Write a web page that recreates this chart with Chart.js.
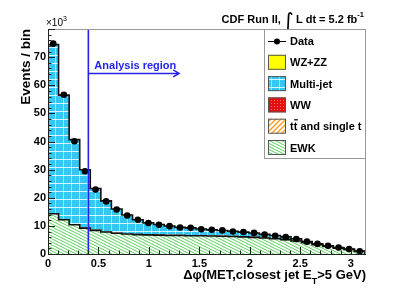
<!DOCTYPE html>
<html>
<head>
<meta charset="utf-8">
<script src="https://cdn.jsdelivr.net/npm/chart.js@4.4.1/dist/chart.umd.min.js"></script>
<style>
  html, body { margin: 0; padding: 0; background: #fff; }
</style>
</head>
<body>
<canvas id="Chart" width="407" height="289"></canvas>
<script>
// binning: 30 bins from 0 to pi
const nBins = 30;
const xMax = Math.PI;
const xTicks = [0, 0.5, 1, 1.5, 2, 2.5, 3];
const yTicks = [0, 10, 20, 30, 40, 50, 60, 70];
const cutValue = 0.4;

// events per bin, in units of 10^3
const dataValues = [74.8, 56.6, 40.1, 29.4, 22.9, 18.7, 15.8, 13.7, 12.2, 11.0,
  10.4, 9.9, 9.4, 9.3, 8.8, 8.6, 8.4, 8.0, 7.8, 7.5,
  6.9, 6.5, 6.0, 5.3, 4.4, 3.6, 2.9, 2.3, 1.8, 1.0];
const ewk = [14.3, 12.2, 10.4, 9.2, 8.4, 7.8, 7.4, 7.1, 6.9, 6.8,
  6.7, 6.6, 6.6, 6.5, 6.5, 6.4, 6.3, 6.2, 6.1, 5.9,
  5.7, 5.4, 5.1, 4.6, 4.0, 3.3, 2.7, 2.1, 1.6, 0.9];
const ttbar = [0.1, 0.1, 0.1, 0.1, 0.1, 0.1, 0.1, 0.1, 0.1, 0.1,
  0.1, 0.1, 0.1, 0.1, 0.1, 0.1, 0.1, 0.1, 0.1, 0.1,
  0.1, 0.1, 0.1, 0.1, 0.1, 0.05, 0.05, 0.05, 0.05, 0.05];
const ww = [0.05, 0.05, 0.05, 0.05, 0.05, 0.05, 0.05, 0.05, 0.05, 0.05,
  0.05, 0.05, 0.05, 0.05, 0.05, 0.05, 0.05, 0.05, 0.05, 0.05,
  0.05, 0.05, 0.05, 0.05, 0.05, 0.03, 0.03, 0.03, 0.03, 0.02];
const multijet = [60.0, 44.1, 30.1, 20.6, 14.7, 10.9, 8.4, 6.6, 5.1, 4.1,
  3.6, 3.2, 2.7, 2.6, 2.2, 2.0, 1.9, 1.7, 1.5, 1.4,
  1.1, 1.0, 0.8, 0.6, 0.3, 0.2, 0.1, 0.1, 0.1, 0.05];
const wzzz = [0.03, 0.03, 0.03, 0.03, 0.03, 0.03, 0.03, 0.03, 0.03, 0.03,
  0.03, 0.03, 0.03, 0.03, 0.03, 0.03, 0.03, 0.03, 0.03, 0.03,
  0.03, 0.03, 0.03, 0.03, 0.02, 0.02, 0.02, 0.02, 0.02, 0.01];

const binWidth = xMax / nBins;
const binCenters = dataValues.map((_, i) => (i + 0.5) * binWidth);
const binEdges = dataValues.map((_, i) => i * binWidth);

const FONT = '"Liberation Sans", Arial, Helvetica, sans-serif';
Chart.defaults.font.family = FONT;

function makePattern(w, h, draw) {
  const c = document.createElement('canvas');
  c.width = w; c.height = h;
  const g = c.getContext('2d');
  draw(g, w, h);
  return g.createPattern(c, 'repeat');
}

const multiFill = makePattern(8, 8, (g, w, h) => {
  g.fillStyle = '#33c8f4';
  g.fillRect(0, 0, w, h);
  g.fillStyle = 'rgba(255,255,255,0.8)';
  g.fillRect(0, h - 1, w, 1);
  g.fillStyle = 'rgba(255,255,255,0.5)';
  g.fillRect(w - 1, 0, 1, h);
});
const ewkFill = makePattern(6, 3, (g, w, h) => {
  g.fillStyle = '#fff';
  g.fillRect(0, 0, w, h);
  g.strokeStyle = '#5fcf5f';
  g.lineWidth = 1;
  g.beginPath();
  g.moveTo(-w, -h); g.lineTo(2 * w, 2 * h);
  g.moveTo(-w, 0); g.lineTo(w, 2 * h);
  g.moveTo(0, -h); g.lineTo(2 * w, h);
  g.stroke();
});
const ttFill = makePattern(5, 5, (g, w, h) => {
  g.fillStyle = '#fff';
  g.fillRect(0, 0, w, h);
  g.strokeStyle = '#ff9a1a';
  g.lineWidth = 1.3;
  g.beginPath();
  g.moveTo(-w, 2 * h); g.lineTo(2 * w, -h);
  g.moveTo(-w, h); g.lineTo(w, -h);
  g.moveTo(0, 2 * h); g.lineTo(2 * w, 0);
  g.stroke();
});
const wwFill = makePattern(3, 3, (g, w, h) => {
  g.fillStyle = '#e41010';
  g.fillRect(0, 0, w, h);
  g.fillStyle = '#ff7070';
  g.fillRect(1, 1, 1, 1);
});

const toXY = (arr, xs) => arr.map((v, i) => ({ x: xs[i], y: v }));

// stacked total outline and EWK outline (step lines along bin edges)
const stackTotal = ewk.map((v, i) => v + ttbar[i] + ww[i] + multijet[i] + wzzz[i]);
const stepLine = (arr) => toXY(arr, binEdges).concat([{ x: xMax, y: arr[arr.length - 1] }, { x: xMax, y: 0 }]);

const barOpts = { barPercentage: 1, categoryPercentage: 1, grouped: false, borderWidth: 0 };

const legendItems = [
  { label: 'Data', kind: 'data' },
  { label: 'WZ+ZZ', fill: '#ffff00' },
  { label: 'Multi-jet', fill: multiFill },
  { label: 'WW', fill: wwFill },
  { label: 'tt and single t', fill: ttFill, tbar: true },
  { label: 'EWK', fill: ewkFill }
];

const rootStyle = {
  id: 'rootStyle',
  afterDatasetsDraw(chart) {
    const { ctx, chartArea: a, scales: { x, y } } = chart;
    ctx.save();
    // analysis cut line and arrow
    const xc = x.getPixelForValue(cutValue);
    ctx.strokeStyle = '#2424e8';
    ctx.fillStyle = '#2424e8';
    ctx.lineWidth = 1.6;
    ctx.beginPath();
    ctx.moveTo(xc, a.top); ctx.lineTo(xc, a.bottom);
    ctx.stroke();
    const ya = y.getPixelForValue(64.2);
    const xe = x.getPixelForValue(1.3);
    ctx.lineWidth = 1.4;
    ctx.beginPath();
    ctx.moveTo(xc, ya); ctx.lineTo(xe, ya);
    ctx.moveTo(xe - 6, ya - 3.5); ctx.lineTo(xe, ya); ctx.lineTo(xe - 6, ya + 3.5);
    ctx.stroke();
    ctx.font = 'bold 11px ' + FONT;
    ctx.textBaseline = 'alphabetic';
    ctx.fillText('Analysis region', xc + 6, ya - 4);
    ctx.restore();
  },
  afterDraw(chart) {
    const { ctx, chartArea: a, scales: { x, y } } = chart;
    ctx.save();
    // frame
    ctx.lineWidth = 1;
    ctx.strokeStyle = '#999';
    ctx.beginPath();
    ctx.moveTo(a.left, a.top + 0.5); ctx.lineTo(a.right + 0.5, a.top + 0.5); ctx.lineTo(a.right + 0.5, a.bottom);
    ctx.stroke();
    ctx.strokeStyle = '#222';
    ctx.beginPath();
    ctx.moveTo(a.left + 0.5, a.top); ctx.lineTo(a.left + 0.5, a.bottom + 0.5); ctx.lineTo(a.right + 1, a.bottom + 0.5);
    ctx.stroke();
    // inward ticks
    ctx.beginPath();
    for (let v = 0; v <= 80.001; v += 2) {
      const py = Math.round(y.getPixelForValue(v)) + 0.5;
      const len = (Math.round(v) % 10 === 0) ? 7 : 3.5;
      ctx.moveTo(a.left, py); ctx.lineTo(a.left + len, py);
    }
    for (let k = 0; k <= 31; k++) {
      const v = k / 10;
      const px = Math.round(x.getPixelForValue(v)) + 0.5;
      const len = (k % 5 === 0) ? 7 : 3.5;
      ctx.moveTo(px, a.bottom); ctx.lineTo(px, a.bottom - len);
    }
    ctx.stroke();

    ctx.fillStyle = '#000';
    // x10^3
    ctx.font = '10px ' + FONT;
    ctx.textAlign = 'left';
    ctx.fillText('\u00d710', a.left - 2, a.top - 3);
    const w10 = ctx.measureText('\u00d710').width;
    ctx.font = '7px ' + FONT;
    ctx.fillText('3', a.left - 2 + w10, a.top - 8);

    // y title
    ctx.font = 'bold 13.5px ' + FONT;
    ctx.save();
    ctx.translate(30, a.top);
    ctx.rotate(-Math.PI / 2);
    ctx.textAlign = 'right';
    ctx.fillText('Events / bin', 0, 0);
    ctx.restore();

    // x title with subscript
    const p1 = '\u0394\u03c6(MET,closest jet E', p2 = 'T', p3 = '>5 GeV)';
    const fx = 'bold 13px ' + FONT, fxs = 'bold 9px ' + FONT;
    ctx.font = fx;
    const w1 = ctx.measureText(p1).width, w3 = ctx.measureText(p3).width;
    ctx.font = fxs;
    const w2 = ctx.measureText(p2).width;
    let tx = a.right + 1 - (w1 + w2 + w3);
    const tb = 279;
    ctx.textAlign = 'left';
    ctx.font = fx;
    ctx.fillText(p1, tx, tb);
    ctx.font = fxs;
    ctx.fillText(p2, tx + w1, tb + 5);
    ctx.font = fx;
    ctx.fillText(p3, tx + w1 + w2, tb);

    // top label
    const q1 = 'CDF Run II, ', q2 = '\u222b', q3 = ' L dt = 5.2 fb', q4 = '-1';
    const fMain = 'bold 11px ' + FONT, fInt = '21px "DejaVu Sans", sans-serif', fSup = 'bold 7.5px ' + FONT;
    ctx.font = fMain; const v1 = ctx.measureText(q1).width, v3 = ctx.measureText(q3).width;
    ctx.font = fInt; const v2 = ctx.measureText(q2).width;
    ctx.font = fSup; const v4 = ctx.measureText(q4).width;
    let sx = a.right + 1 - (v1 + v2 + v3 + v4);
    const sb = 23;
    ctx.font = fMain; ctx.fillText(q1, sx, sb); sx += v1;
    ctx.font = fInt; ctx.fillText(q2, sx - 1, sb + 5); sx += v2 - 2;
    ctx.font = fMain; ctx.fillText(q3, sx, sb); sx += v3;
    ctx.font = fSup; ctx.fillText(q4, sx, sb - 6);

    // legend
    const lx = 264, ly = a.top, lw = a.right - lx, lh = 129;
    ctx.fillStyle = '#fff';
    ctx.fillRect(lx, ly, lw, lh);
    ctx.strokeStyle = '#999';
    ctx.strokeRect(lx + 0.5, ly + 0.5, lw, lh);
    ctx.font = 'bold 11px ' + FONT;
    ctx.textBaseline = 'middle';
    legendItems.forEach((it, i) => {
      const cy = ly + 12 + i * 21.3;
      const bx = lx + 4, bw = 18, bh = 15;
      if (it.kind === 'data') {
        ctx.strokeStyle = '#000';
        ctx.lineWidth = 1;
        ctx.beginPath();
        ctx.moveTo(bx, cy + 0.5); ctx.lineTo(bx + bw, cy + 0.5);
        ctx.stroke();
        ctx.fillStyle = '#000';
        ctx.beginPath();
        ctx.arc(bx + bw / 2, cy + 0.5, 3, 0, Math.PI * 2);
        ctx.fill();
      } else {
        ctx.fillStyle = it.fill;
        ctx.fillRect(bx, cy - bh / 2, bw, bh);
        ctx.strokeStyle = '#555';
        ctx.lineWidth = 1;
        ctx.strokeRect(bx + 0.5, cy - bh / 2 + 0.5, bw - 1, bh - 1);
      }
      ctx.fillStyle = '#000';
      ctx.textAlign = 'left';
      ctx.fillText(it.label, lx + 26, cy + 1);
      if (it.tbar) {
        const wt = ctx.measureText('t').width;
        ctx.fillRect(lx + 26 + wt + 0.5, cy - 7, wt, 1.2);
      }
    });
    ctx.restore();
  }
};

const ctx = document.getElementById('Chart').getContext('2d');
new Chart(ctx, {
  type: 'bar',
  data: {
    datasets: [
      { type: 'line', label: 'Data', data: toXY(dataValues, binCenters), showLine: false, stack: 'data',
        pointRadius: 3.3, pointBackgroundColor: '#000', pointBorderWidth: 0, borderColor: '#000' },
      { type: 'line', label: 'total', data: stepLine(stackTotal), stepped: true, stack: 'out1',
        borderColor: '#111', borderWidth: 1.6, pointRadius: 0, fill: false },
      { type: 'line', label: 'ewk outline', data: stepLine(ewk), stepped: true, stack: 'out2',
        borderColor: '#111', borderWidth: 1.6, pointRadius: 0, fill: false },
      { label: 'EWK', data: toXY(ewk, binCenters), backgroundColor: ewkFill, ...barOpts },
      { label: 'tt and single t', data: toXY(ttbar, binCenters), backgroundColor: ttFill, ...barOpts },
      { label: 'WW', data: toXY(ww, binCenters), backgroundColor: wwFill, ...barOpts },
      { label: 'Multi-jet', data: toXY(multijet, binCenters), backgroundColor: multiFill, ...barOpts },
      { label: 'WZ+ZZ', data: toXY(wzzz, binCenters), backgroundColor: '#ffff00', ...barOpts }
    ]
  },
  options: {
    responsive: false,
    animation: false,
    devicePixelRatio: 1,
    layout: { padding: { top: 29, right: 42, left: 0, bottom: 0 } },
    plugins: { legend: { display: false }, tooltip: { enabled: false } },
    scales: {
      x: {
        type: 'linear', min: 0, max: xMax, offset: false,
        grid: { display: false, drawTicks: false }, border: { display: false },
        ticks: { padding: 3, color: '#000', font: { size: 11, weight: 'bold' }, maxRotation: 0,
          callback: (v) => String(v) },
        afterBuildTicks: (s) => { s.ticks = xTicks.map(v => ({ value: v })); },
        afterFit: (s) => { s.height = 35; }
      },
      y: {
        stacked: true, min: 0, max: 80,
        grid: { display: false, drawTicks: false }, border: { display: false },
        ticks: { padding: 2, color: '#000', font: { size: 11, weight: 'bold' } },
        afterBuildTicks: (s) => { s.ticks = yTicks.map(v => ({ value: v })); },
        afterFit: (s) => { s.width = 48; }
      }
    }
  },
  plugins: [rootStyle]
});
</script>
</body>
</html>
